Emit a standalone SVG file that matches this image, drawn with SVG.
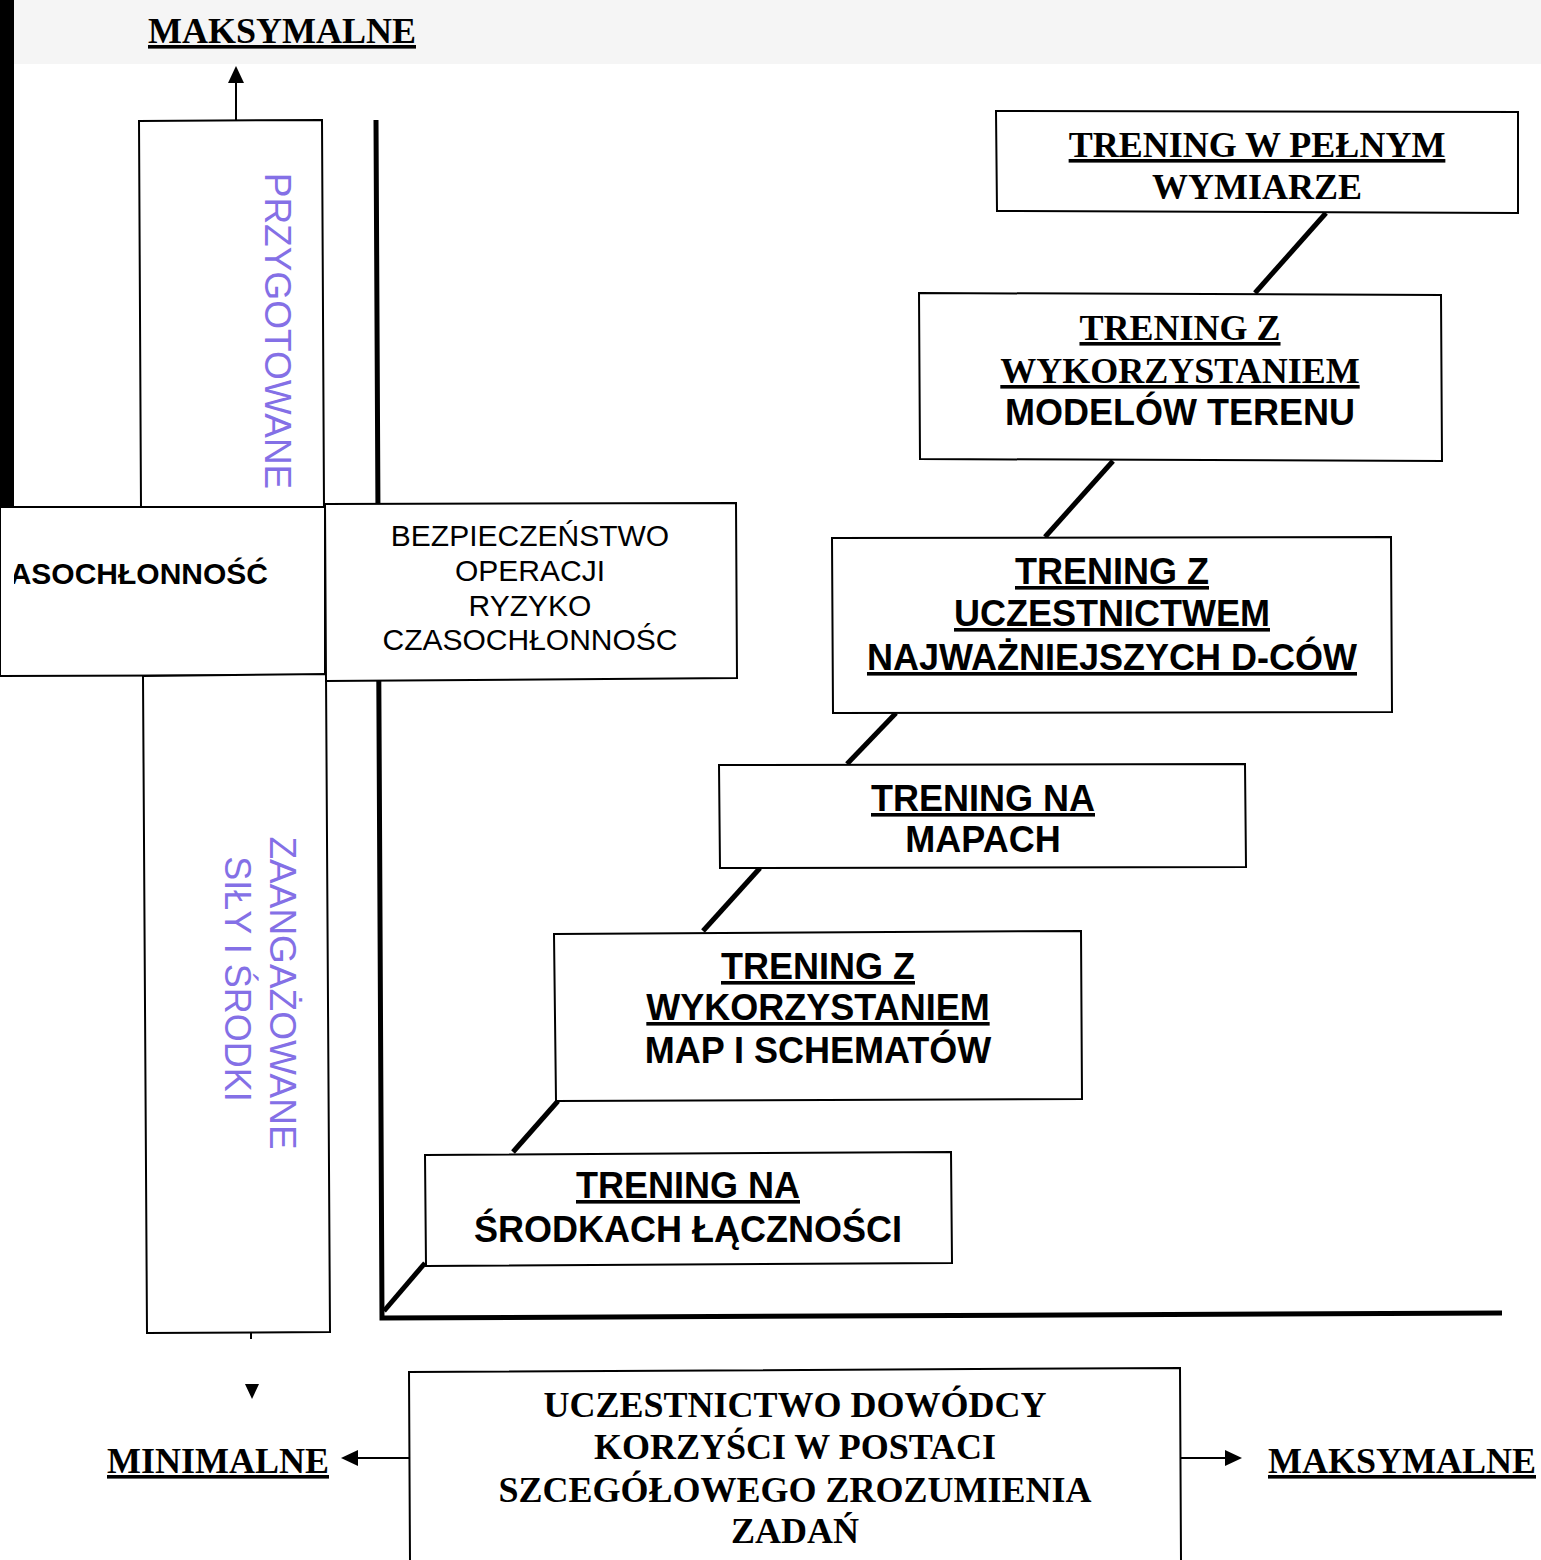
<svg xmlns="http://www.w3.org/2000/svg" width="1541" height="1560" viewBox="0 0 1541 1560">
  <defs>
    <style>
      .box { fill: #fff; stroke: #000; stroke-width: 2; }
      .axis { fill: none; stroke: #000; stroke-width: 5; }
      .link { fill: none; stroke: #000; stroke-width: 5; }
      .thin { fill: none; stroke: #000; stroke-width: 2; }
      .serif { font-family: "Liberation Serif", "Times New Roman", serif; font-weight: bold; font-size: 36px; fill: #000; }
      .sans { font-family: "Liberation Sans", Arial, sans-serif; font-weight: bold; font-size: 36px; fill: #000; }
      .plain { font-family: "Liberation Sans", Arial, sans-serif; font-size: 30px; fill: #000; }
      .vert { font-family: "Liberation Sans", Arial, sans-serif; font-size: 37px; fill: #8470e6; }
      .u { text-decoration: underline; }
    </style>
    <clipPath id="leftClip">
      <rect x="14" y="500" width="320" height="190"/>
    </clipPath>
  </defs>

  <rect width="1541" height="1560" fill="#fff"/>
  <rect x="14" y="0" width="1527" height="64" fill="#f5f5f5"/>
  <rect x="0" y="0" width="14" height="507" fill="#000"/>

  <!-- axes -->
  <g id="axes">
    <polyline class="axis" points="376,120 382,1318 1502,1313"/>
  </g>

  <!-- connectors between the training stages and the axis arrows -->
  <g id="connectors">
    <line class="link" x1="1326" y1="213" x2="1255" y2="293"/>
    <line class="link" x1="1113" y1="461" x2="1045" y2="537"/>
    <line class="link" x1="896" y1="713" x2="847" y2="764"/>
    <line class="link" x1="760" y1="868" x2="703" y2="931"/>
    <line class="link" x1="558" y1="1101" x2="513" y2="1152"/>
    <line class="link" x1="425" y1="1263" x2="384" y2="1311"/>
    <!-- vertical scale arrows -->
    <line class="thin" x1="236" y1="121" x2="236" y2="80"/>
    <polygon points="236,66 228,83 244,83" fill="#000"/>
    <line class="thin" x1="251" y1="1332" x2="251" y2="1339"/>
    <polygon points="245,1384 259,1384 252,1399" fill="#000"/>
    <!-- horizontal scale arrows -->
    <line class="thin" x1="409" y1="1458" x2="355" y2="1458"/>
    <polygon points="341,1458 358,1450 358,1466" fill="#000"/>
    <line class="thin" x1="1181" y1="1458" x2="1228" y2="1458"/>
    <polygon points="1242,1458 1225,1450 1225,1466" fill="#000"/>
  </g>

  <!-- scale labels -->
  <g id="label-max-top">
    <text class="serif u" x="282" y="43" text-anchor="middle">MAKSYMALNE</text>
  </g>
  <g id="label-min">
    <text class="serif u" x="218" y="1473" text-anchor="middle">MINIMALNE</text>
  </g>
  <g id="label-max-right">
    <text class="serif u" x="1268" y="1473">MAKSYMALNE</text>
  </g>

  <!-- left column -->
  <g id="preparation">
    <polygon class="box" points="139,121 322,120 324,507 141,508"/>
    <text class="vert" transform="translate(265,331) rotate(90)" text-anchor="middle">PRZYGOTOWANE</text>
  </g>
  <g id="time">
    <polygon class="box" points="0,507 325,507 325,675 0,676"/>
    <g clip-path="url(#leftClip)">
      <text class="sans" style="font-size:30px" x="268" y="584" text-anchor="end">CZASOCHŁONNOŚĆ</text>
    </g>
  </g>
  <g id="commitment">
    <polygon class="box" points="143,676 326,674 330,1332 147,1333"/>
    <text class="vert" transform="translate(270,993) rotate(90)" text-anchor="middle">ZAANGAŻOWANE</text>
    <text class="vert" style="font-size:36px" transform="translate(225,979) rotate(90)" text-anchor="middle">SIŁY I ŚRODKI</text>
  </g>
  <g id="risk">
    <polygon class="box" points="325,504 736,503 737,678 326,681"/>
    <text class="plain" x="530" y="546" text-anchor="middle">BEZPIECZEŃSTWO</text>
    <text class="plain" x="530" y="581" text-anchor="middle">OPERACJI</text>
    <text class="plain" x="530" y="616" text-anchor="middle">RYZYKO</text>
    <text class="plain" x="530" y="650" text-anchor="middle">CZASOCHŁONNOŚC</text>
  </g>

  <!-- training stages -->
  <g id="stage-full">
    <polygon class="box" points="996,111 1518,112 1518,213 997,211"/>
    <text class="serif u" x="1257" y="157" text-anchor="middle">TRENING W PEŁNYM</text>
    <text class="serif" x="1257" y="199" text-anchor="middle">WYMIARZE</text>
  </g>
  <g id="stage-terrain">
    <polygon class="box" points="919,293 1441,295 1442,461 920,459"/>
    <text class="serif u" x="1180" y="340" text-anchor="middle">TRENING Z</text>
    <text class="serif u" x="1180" y="383" text-anchor="middle">WYKORZYSTANIEM</text>
    <text class="sans" x="1180" y="425" text-anchor="middle">MODELÓW TERENU</text>
  </g>
  <g id="stage-commanders">
    <polygon class="box" points="832,538 1391,537 1392,712 833,713"/>
    <text class="sans u" x="1112" y="584" text-anchor="middle">TRENING Z</text>
    <text class="sans u" x="1112" y="626" text-anchor="middle">UCZESTNICTWEM</text>
    <text class="sans u" x="1112" y="670" text-anchor="middle">NAJWAŻNIEJSZYCH D-CÓW</text>
  </g>
  <g id="stage-maps">
    <polygon class="box" points="719,765 1245,764 1246,867 720,868"/>
    <text class="sans u" x="983" y="811" text-anchor="middle">TRENING NA</text>
    <text class="sans" x="983" y="852" text-anchor="middle">MAPACH</text>
  </g>
  <g id="stage-schemes">
    <polygon class="box" points="554,934 1081,931 1082,1099 556,1101"/>
    <text class="sans u" x="818" y="979" text-anchor="middle">TRENING Z</text>
    <text class="sans u" x="818" y="1020" text-anchor="middle">WYKORZYSTANIEM</text>
    <text class="sans" x="818" y="1063" text-anchor="middle">MAP I SCHEMATÓW</text>
  </g>
  <g id="stage-comms">
    <polygon class="box" points="425,1155 951,1152 952,1263 426,1266"/>
    <text class="sans u" x="688" y="1198" text-anchor="middle">TRENING NA</text>
    <text class="sans" x="688" y="1242" text-anchor="middle">ŚRODKACH ŁĄCZNOŚCI</text>
  </g>

  <!-- horizontal scale box -->
  <g id="commander-benefit">
    <polygon class="box" points="409,1372 1180,1368 1181,1562 410,1562"/>
    <text class="serif" x="795" y="1417" text-anchor="middle">UCZESTNICTWO DOWÓDCY</text>
    <text class="serif" x="795" y="1459" text-anchor="middle">KORZYŚCI W POSTACI</text>
    <text class="serif" x="795" y="1502" text-anchor="middle">SZCEGÓŁOWEGO ZROZUMIENIA</text>
    <text class="serif" x="795" y="1543" text-anchor="middle">ZADAŃ</text>
  </g>
</svg>
